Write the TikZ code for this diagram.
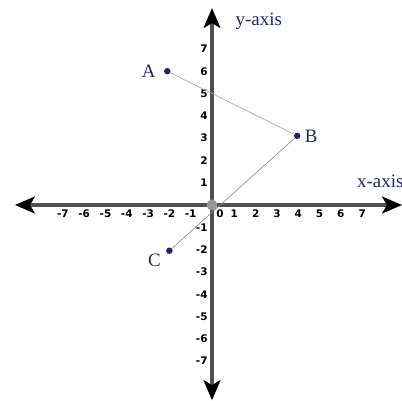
\documentclass[tikz,border=0pt]{standalone}
\usepackage{fontspec}
\setmainfont{Liberation Serif}
\newfontfamily\tickfamily{DejaVu Sans}
\usetikzlibrary{arrows.meta,positioning}
\definecolor{axisGray}{RGB}{80,80,80}
\definecolor{originGray}{RGB}{150,150,150}
\definecolor{segGray}{RGB}{170,170,170}
\definecolor{pointNavy}{RGB}{28,36,120}
\definecolor{labelNavy}{RGB}{36,36,112}
\newcommand{\TickFont}{\tickfamily\bfseries\fontsize{10.5}{11}\selectfont}
\newcommand{\AxisFont}{\fontsize{19}{19}\selectfont}
\tikzset{
  axisline/.style={axisGray,line width=3bp,
    {Stealth[length=20bp,width=17bp,inset=5bp,color=black]}-{Stealth[length=20bp,width=17bp,inset=5bp,color=black]}},
  ticklabel/.style={font=\TickFont,inner sep=0pt},
  ptdot/.style={circle,fill=pointNavy,minimum size=6.5bp,inner sep=0pt},
  ptlabel/.style={labelNavy,font=\AxisFont,inner sep=1bp}
}

\begin{document}
\begin{tikzpicture}[x=21.3bp,y=22.3bp]
\useasboundingbox (-212bp,-196bp) rectangle (190bp,205bp);
\fill[white] (-212bp,-196bp) rectangle (190bp,205bp);

% axes
\coordinate (xneg) at (-9.25,0);
\coordinate (xpos) at (8.92,0);
\coordinate (yneg) at (0,-8.75);
\coordinate (ypos) at (0,8.83);
\draw[axisline] (xneg) -- (xpos);
\draw[axisline] (yneg) -- (ypos);
\node[labelNavy,font=\AxisFont,inner sep=0pt] (xname) at (7.9,1.05) {x-axis};
\node[labelNavy,font=\AxisFont,inner sep=0pt] (yname) at (2.2,8.25) {y-axis};

% tick labels
\foreach \k in {1,...,7}{
  \node[ticklabel] (xp\k) at (\k+0.05,-0.4) {\k};
  \node[ticklabel] (xn\k) at (-\k,-0.4) {-\k};
  \node[ticklabel,anchor=east] (yp\k) at (-0.2,\k) {\k};
  \node[ticklabel,anchor=east] (yn\k) at (-0.2,-\k) {-\k};
}
\node[ticklabel] (xzero) at (0.38,-0.4) {0};

% points and segments
\node[ptdot] (A) at (-2.1,6) {};
\node[ptdot] (B) at (4,3.1) {};
\node[ptdot] (C) at (-2,-2.05) {};
\draw[segGray,line width=0.7bp] (A) -- (B);
\draw[segGray!80!black,line width=0.6bp] (B) -- (C);
\node[circle,fill=originGray,minimum size=11bp,inner sep=0pt] (orig) at (0,0) {};
\node[ptlabel,left=7bp of A] (Alab) {A};
\node[ptlabel,right=3bp of B] (Blab) {B};
\node[ptlabel,below left=0bp and 5bp of C] (Clab) {C};
\end{tikzpicture}
\end{document}
